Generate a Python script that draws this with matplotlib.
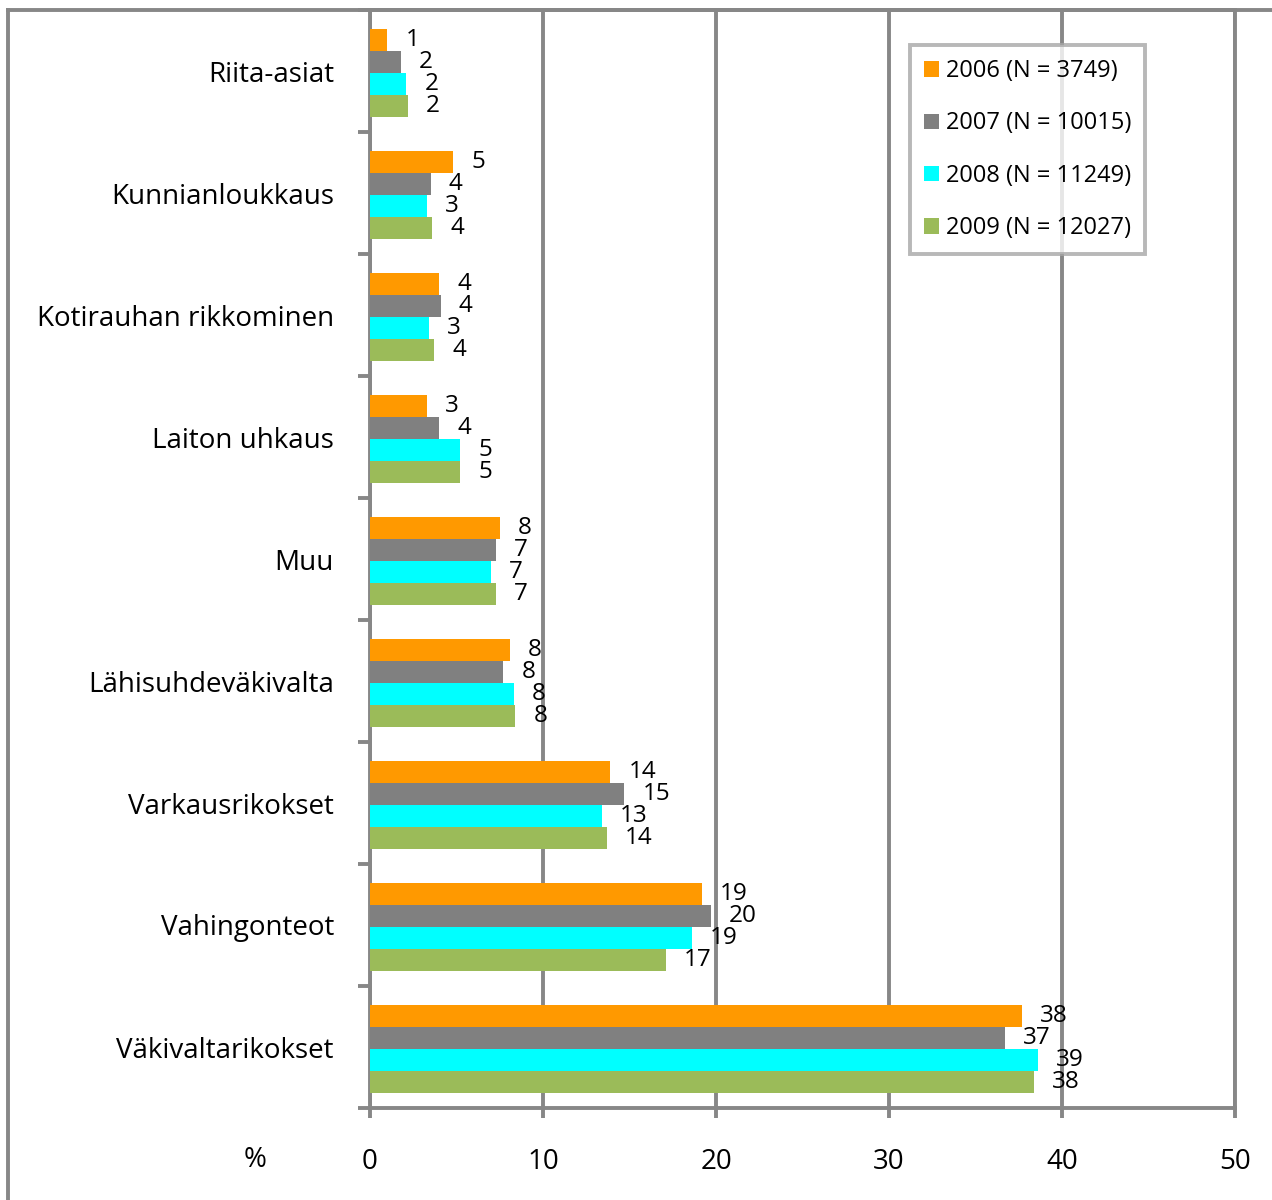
import numpy as np
import matplotlib
matplotlib.use("Agg")
import matplotlib.pyplot as plt
from matplotlib.patches import Patch
from matplotlib.lines import Line2D

plt.rcParams['font.family'] = ['Open Sans', 'DejaVu Sans']

categories = ["Riita-asiat", "Kunnianloukkaus", "Kotirauhan rikkominen", "Laiton uhkaus",
              "Muu", "Lähisuhdeväkivalta", "Varkausrikokset", "Vahingonteot", "Väkivaltarikokset"]
series_names = ["2006 (N = 3749)", "2007 (N = 10015)", "2008 (N = 11249)", "2009 (N = 12027)"]
v2006 = [1.0, 4.8, 4.0, 3.3, 7.5, 8.1, 13.9, 19.2, 37.7]
v2007 = [1.8, 3.5, 4.1, 4.0, 7.3, 7.7, 14.7, 19.7, 36.7]
v2008 = [2.1, 3.3, 3.4, 5.2, 7.0, 8.3, 13.4, 18.6, 38.6]
v2009 = [2.2, 3.6, 3.7, 5.2, 7.3, 8.4, 13.7, 17.1, 38.4]
colors = ["#FF9900", "#808080", "#00FFFF", "#9BBB59"]
xticks = [0, 10, 20, 30, 40, 50]

grey = "#878787"
lw = 2.8

fig = plt.figure(figsize=(12.72, 12.0), dpi=100)
ax = fig.add_axes([370 / 1272, 1 - 1108 / 1200, 865 / 1272, 1098 / 1200])

y = np.arange(len(categories))
bh = 0.18
for k, vals in enumerate([v2006, v2007, v2008, v2009]):
    pos = y + (k - 1.5) * bh + 0.017
    ax.barh(pos, vals, height=bh, color=colors[k], zorder=3, label=series_names[k])
    for p, v in zip(pos, vals):
        ax.annotate(str(int(v + 0.5)), (v, p), xytext=(13, 0), textcoords="offset points",
                    ha="left", va="center", fontsize=17.5, color="black", zorder=4)

ax.set_xlim(0, 50)
ax.set_ylim(len(categories) - 0.5, -0.5)
ax.set_xticks(xticks)
ax.set_xticklabels([str(t) for t in xticks], fontsize=20)
ax.set_yticks(y)
ax.set_yticklabels(categories, fontsize=20)
ax.set_yticks(np.arange(len(categories) + 1) - 0.5, minor=True)

ax.tick_params(axis="y", which="major", length=0, pad=26)
ax.tick_params(axis="y", which="minor", length=8.6, width=lw, color=grey, direction="out")
ax.tick_params(axis="x", which="major", length=7, width=lw, color=grey, direction="out", pad=22)

ax.xaxis.grid(True, color=grey, linewidth=lw, zorder=0)
ax.set_axisbelow(True)
for side in ["left", "bottom", "top", "right"]:
    ax.spines[side].set_color(grey)
    ax.spines[side].set_linewidth(lw)

# outer frame of the chart
fig.add_artist(Line2D([8 / 1272, 8 / 1272], [0, 1 - 10 / 1200], transform=fig.transFigure,
                      color=grey, linewidth=lw))
fig.add_artist(Line2D([8 / 1272, 1], [1 - 10 / 1200, 1 - 10 / 1200], transform=fig.transFigure,
                      color=grey, linewidth=lw))

fig.text(255 / 1272, 1 - 1160 / 1200, "%", fontsize=20, ha="center", va="center")

handles = [Patch(facecolor=c, edgecolor="none") for c in colors]
leg = fig.legend(handles, series_names, loc="upper left",
                 bbox_to_anchor=(910 / 1272, 1 - 45 / 1200), fontsize=17,
                 frameon=True, fancybox=False, borderaxespad=0,
                 handlelength=0.62, handleheight=0.62, handletextpad=0.3,
                 labelspacing=1.2, borderpad=0.6)
leg.get_frame().set_edgecolor("#A6A6A6")
leg.get_frame().set_linewidth(2.8)

fig.savefig("out.png", dpi=100)
